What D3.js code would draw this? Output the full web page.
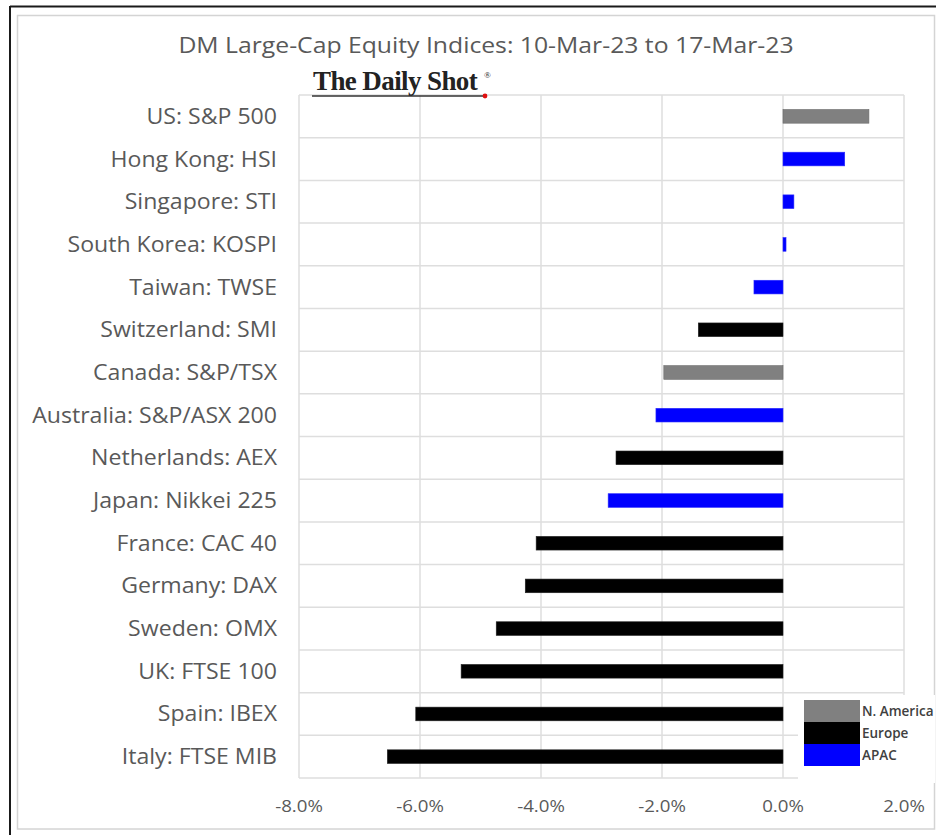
<!DOCTYPE html>
<html>
<head>
<meta charset="utf-8">
<script src="https://cdn.jsdelivr.net/npm/d3@7"></script>
<style>
html,body{margin:0;padding:0;background:#fff;}
svg{display:block;}
</style>
</head>
<body>
<svg id="chart" width="936" height="835"></svg>
<script>
const categories = ["US: S&P 500","Hong Kong: HSI","Singapore: STI","South Korea: KOSPI","Taiwan: TWSE","Switzerland: SMI","Canada: S&P/TSX","Australia: S&P/ASX 200","Netherlands: AEX","Japan: Nikkei 225","France: CAC 40","Germany: DAX","Sweden: OMX","UK: FTSE 100","Spain: IBEX","Italy: FTSE MIB"];
const values = [1.42, 1.02, 0.18, 0.05, -0.48, -1.40, -1.97, -2.10, -2.76, -2.89, -4.08, -4.26, -4.74, -5.32, -6.07, -6.54];
const regions = ["N. America","APAC","APAC","APAC","APAC","Europe","N. America","APAC","Europe","APAC","Europe","Europe","Europe","Europe","Europe","Europe"];
const legendNames = ["N. America","Europe","APAC"];
const legendColors = ["#808080","#000000","#0000ff"];
const tickValues = [-8, -6, -4, -2, 0, 2];
const title = "DM Large-Cap Equity Indices: 10-Mar-23 to 17-Mar-23";

(function(){
const svg = d3.select("#chart");
const color = d3.scaleOrdinal().domain(legendNames).range(legendColors);
const borderColor = d3.scaleOrdinal().domain(legendNames).range(["#6a6a6a","#222","#2a2aff"]);
const sans = "'Open Sans', Lato, sans-serif";
const stretch = 1.1;
const fmt = d3.formatLocale({decimal: ".", thousands: ",", grouping: [3], currency: ["", ""], minus: "-"}).format(".1f");

// frames
svg.append("line").attr("x1",10).attr("y1",6.5).attr("x2",936).attr("y2",6.5).attr("stroke","#1a1a1a").attr("stroke-width",2);
svg.append("line").attr("x1",10).attr("y1",6).attr("x2",10).attr("y2",835).attr("stroke","#1a1a1a").attr("stroke-width",2);
svg.append("rect").attr("x",17.5).attr("y",15.5).attr("width",917).attr("height",813.5).attr("fill","none").attr("stroke","#d4d4d4").attr("stroke-width",1.5);

const pL = 299, pR = 904, pT = 95, pB = 778;
const x = d3.scaleLinear().domain([-8, 2]).range([pL, pR]);
const y = d3.scaleBand().domain(categories).range([pT, pB]).paddingInner(0.68).paddingOuter(0.34);
const yRow = d3.scaleBand().domain(categories).range([pT, pB]);

// gridlines
const g = svg.append("g");
g.selectAll("line.v").data(tickValues).enter().append("line")
  .attr("x1", d => x(d)).attr("x2", d => x(d)).attr("y1", pT).attr("y2", pB)
  .attr("stroke", "#dedede").attr("stroke-width", 1.5);
const hb = categories.map(c => yRow(c)).concat([pB]);
g.selectAll("line.h").data(hb).enter().append("line")
  .attr("x1", pL).attr("x2", pR).attr("y1", d => d).attr("y2", d => d)
  .attr("stroke", "#dedede").attr("stroke-width", 1.5);

// bars
svg.append("g").selectAll("rect").data(categories).enter().append("rect")
  .attr("x", (d,i) => x(Math.min(0, values[i])))
  .attr("width", (d,i) => Math.abs(x(values[i]) - x(0)))
  .attr("y", d => y(d))
  .attr("height", y.bandwidth())
  .attr("fill", (d,i) => color(regions[i]))
  .attr("stroke", (d,i) => borderColor(regions[i]))
  .attr("stroke-width", 0.6);

// category labels
svg.append("g").selectAll("text").data(categories).enter().append("text")
  .attr("transform", d => `translate(277,${yRow(d) + yRow.bandwidth()/2 + 7.5}) scale(${stretch},1)`)
  .attr("text-anchor", "end")
  .attr("font-family", sans).attr("font-size", 21)
  .attr("fill", "#595959").text(d => d);

// x axis labels
svg.append("g").selectAll("text").data(tickValues).enter().append("text")
  .attr("transform", d => `translate(${x(d)},812) scale(${stretch},1)`)
  .attr("text-anchor", "middle")
  .attr("font-family", sans).attr("font-size", 17)
  .attr("fill", "#595959").text(d => fmt(d) + "%");

// title
svg.append("text").attr("transform", `translate(486,53) scale(${stretch},1)`).attr("text-anchor","middle")
  .attr("font-family", sans).attr("font-size", 22.5)
  .attr("fill", "#595959").text(title);

// logo
const logo = svg.append("g");
logo.append("text").attr("x", 313).attr("y", 90)
  .attr("font-family", "'Liberation Serif', 'DejaVu Serif', serif").attr("font-size", 27)
  .attr("font-weight", "bold").attr("letter-spacing", -0.6).attr("fill", "#222")
  .text("The Daily Shot");
logo.append("text").attr("x", 484).attr("y", 78)
  .attr("font-family", "'Liberation Serif', serif").attr("font-size", 9).attr("fill","#222").text("®");
logo.append("line").attr("x1", 312).attr("x2", 484).attr("y1", 96).attr("y2", 96).attr("stroke","#333").attr("stroke-width",1.5);
logo.append("circle").attr("cx", 485).attr("cy", 96).attr("r", 2.4).attr("fill", "#e01010");

// legend
const lg = svg.append("g");
lg.append("rect").attr("x", 798).attr("y", 695).attr("width", 137).attr("height", 88).attr("fill", "#fff");
lg.selectAll("rect.sw").data(legendNames).enter().append("rect")
  .attr("x", 804).attr("y", (d,i) => 700 + i*22).attr("width", 56).attr("height", 22)
  .attr("fill", d => color(d));
lg.selectAll("text").data(legendNames).enter().append("text")
  .attr("x", 862).attr("y", (d,i) => 716 + i*22)
  .attr("font-family", sans).attr("font-size", 13.5).attr("font-weight", 600)
  .attr("fill", "#404040").text(d => d);
})();
</script>
</body>
</html>
